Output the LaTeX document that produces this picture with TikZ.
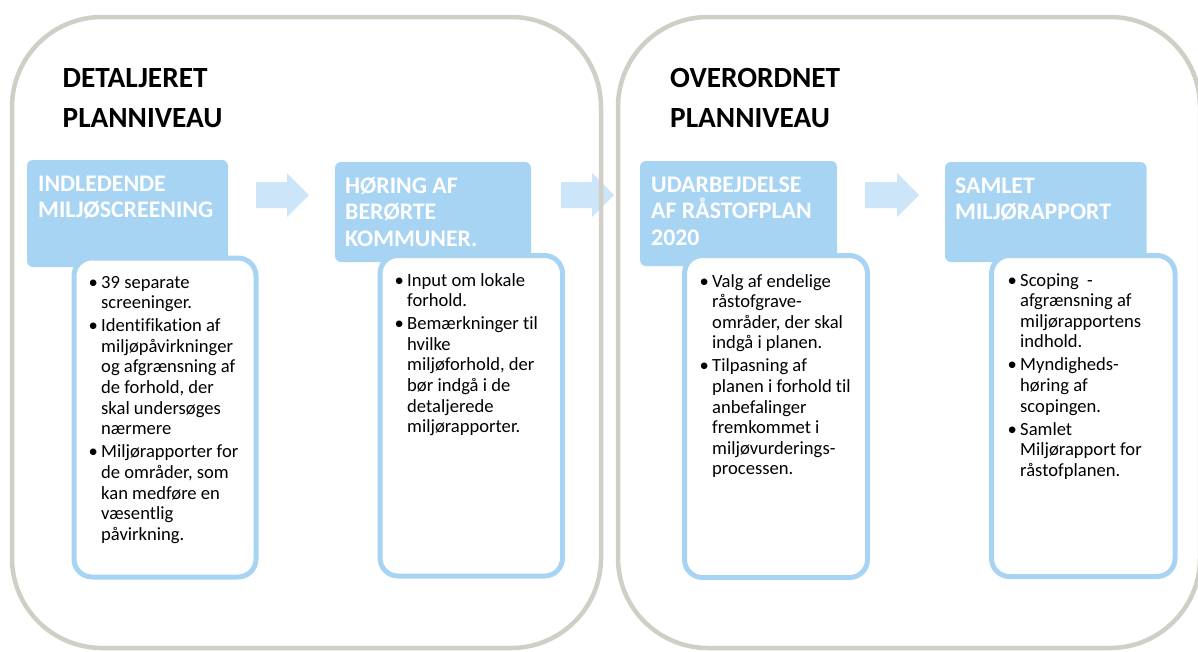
\documentclass[tikz,border=0pt]{standalone}
\usepackage{fontspec}
\setmainfont{Carlito}[Ligatures=CommonOff]
\definecolor{hdrblue}{HTML}{A8D4F4}
\definecolor{arrblue}{HTML}{CDE5F8}
\definecolor{contgray}{HTML}{CFCFC6}
\newcommand\mybul{\makebox[16pt][c]{•}}
\newcommand\mycont{\hspace*{16pt}}
\newcommand\mylist[1]{\parbox[t]{200pt}{\fontsize{18.6}{20.6}\selectfont #1}}
\newcommand\myhdr[1]{\parbox[t]{230pt}{\fontsize{23.8}{26.5}\selectfont\bfseries #1}}
\newcommand\mytitle[1]{\parbox[t]{260pt}{\fontsize{29.3}{40}\selectfont\bfseries #1}}
\tikzset{
  container/.style={draw=contgray, line width=4.5pt, rounded corners=90pt},
  hdrbox/.style={fill=hdrblue, rounded corners=6pt},
  wbox/.style={draw=hdrblue, fill=white, line width=5pt, rounded corners=18pt},
  blockarrow/.style={fill=arrblue},
  plaintext/.style={inner sep=0pt, anchor=base west},
  hdrtext/.style={inner sep=0pt, anchor=base west, text=white},
}
\begin{document}
\begin{tikzpicture}[x=1pt,y=-1pt]
\useasboundingbox (0,0) rectangle (1198,651);
\clip (0,0) rectangle (1198,651);
% block arrows
\path[blockarrow] (256,182) -- (287,182) -- (287,173) -- (309,195) -- (287,217) -- (287,208) -- (256,208) -- cycle;
\path[blockarrow] (561,182) -- (592,182) -- (592,173) -- (614,195) -- (592,217) -- (592,208) -- (561,208) -- cycle;
\path[blockarrow] (865,182) -- (897,182) -- (897,173) -- (919,195) -- (897,217) -- (897,208) -- (865,208) -- cycle;
% containers
\draw[container] (12,17) rectangle (601,648);
\draw[container] (618,17) rectangle (1200,648);
% titles
\node[plaintext] (t1) at (62.5,87) {\mytitle{DETALJERET\\PLANNIVEAU}};
\node[plaintext] (t2) at (670,87) {\mytitle{OVERORDNET\\PLANNIVEAU}};
% header boxes
\path[hdrbox] (27,160) rectangle (228,267);
\path[hdrbox] (335,162) rectangle (531,262);
\path[hdrbox] (640,161) rectangle (837,266);
\path[hdrbox] (945,162) rectangle (1146.5,262);
\node[hdrtext] (h1) at (38,191) {\myhdr{INDLEDENDE\\MILJØSCREENING}};
\node[hdrtext] (h2) at (345,193) {\myhdr{HØRING AF\\BERØRTE\\KOMMUNER.}};
\node[hdrtext] (h3) at (651,192) {\myhdr{UDARBEJDELSE\\AF RÅSTOFPLAN\\2020}};
\node[hdrtext] (h4) at (955,193) {\myhdr{SAMLET\\MILJØRAPPORT}};
% white boxes
\draw[wbox] (74,258) rectangle (256,577);
\draw[wbox] (380,255.5) rectangle (562.5,576);
\draw[wbox] (684.5,255.5) rectangle (867.5,577.5);
\draw[wbox] (991.5,255.5) rectangle (1175,576.5);
% bullet texts
\node[plaintext] (l1) at (85,288) {\mylist{%
\mybul 39 separate\\
\mycont screeninger.\\[2.5pt]
\mybul Identifikation af\\
\mycont miljøpåvirkninger\\
\mycont og afgrænsning af\\
\mycont de forhold, der\\
\mycont skal undersøges\\
\mycont nærmere\\[2.5pt]
\mybul Miljørapporter for\\
\mycont de områder, som\\
\mycont kan medføre en\\
\mycont væsentlig\\
\mycont påvirkning.}};
\node[plaintext] (l2) at (391,286) {\mylist{%
\mybul Input om lokale\\
\mycont forhold.\\[2.5pt]
\mybul Bemærkninger til\\
\mycont hvilke\\
\mycont miljøforhold, der\\
\mycont bør indgå i de\\
\mycont detaljerede\\
\mycont miljørapporter.}};
\node[plaintext] (l3) at (696,287) {\mylist{%
\mybul Valg af endelige\\
\mycont råstofgrave-\\
\mycont områder, der skal\\
\mycont indgå i planen.\\[2.5pt]
\mybul Tilpasning af\\
\mycont planen i forhold til\\
\mycont anbefalinger\\
\mycont fremkommet i\\
\mycont miljøvurderings-\\
\mycont processen.}};
\node[plaintext] (l4) at (1004,286) {\mylist{%
\mybul Scoping~~-\\
\mycont afgrænsning af\\
\mycont miljørapportens\\
\mycont indhold.\\[2.5pt]
\mybul Myndigheds-\\
\mycont høring af\\
\mycont scopingen.\\[2.5pt]
\mybul Samlet\\
\mycont Miljørapport for\\
\mycont råstofplanen.}};
\end{tikzpicture}
\end{document}
